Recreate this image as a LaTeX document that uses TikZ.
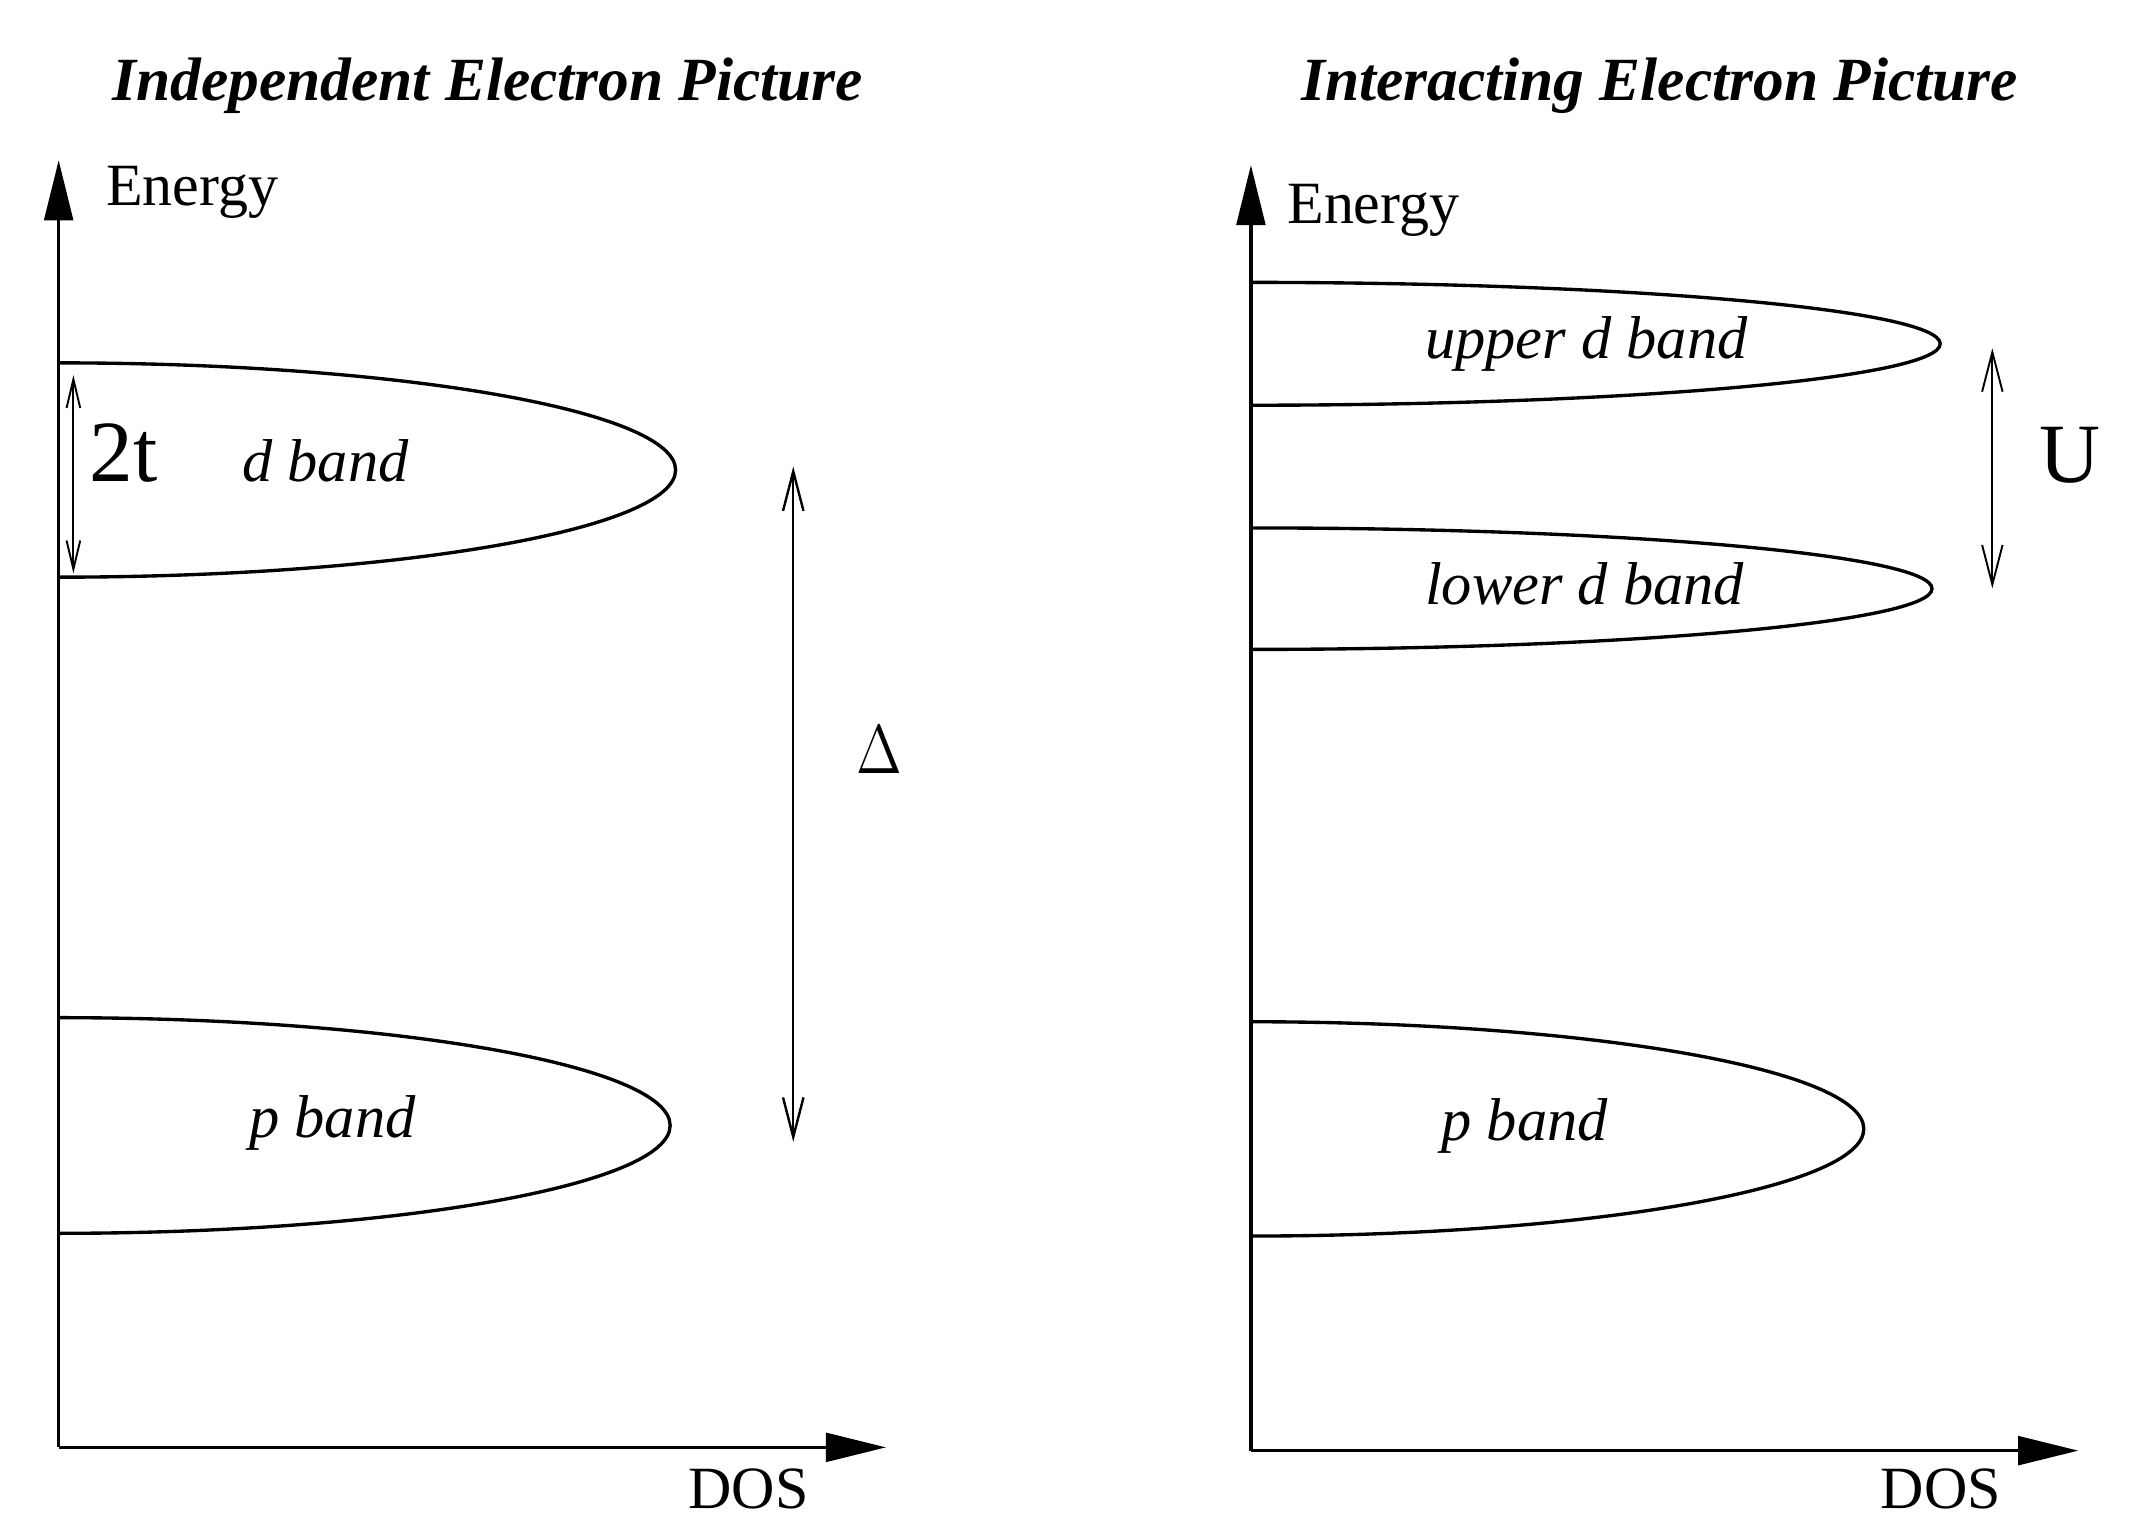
\documentclass[tikz,border=0pt]{standalone}
\usepackage{fontspec}
\setmainfont{Liberation Serif}
\usetikzlibrary{arrows.meta}
\begin{document}
\begin{tikzpicture}[x=0.01cm,y=-0.01cm,
  axis/.style={line width=0.7pt,-{Triangle[length=4.4mm,width=2.1mm]}},
  band/.style={line width=0.7pt},
  gapwide/.style={line width=0.5pt,
    {Straight Barb[length=2.9mm,width=1.5mm]}-{Straight Barb[length=2.9mm,width=1.5mm]}},
  gapnarrow/.style={line width=0.4pt,
    {Straight Barb[length=2.1mm,width=1.0mm]}-{Straight Barb[length=2.1mm,width=1.0mm]}},
  txt/.style={inner sep=0pt,font=\fontsize{12.5pt}{15pt}\selectfont},
  bandlabel/.style={inner sep=0pt,font=\fontsize{12.6pt}{15pt}\selectfont\itshape},
  title/.style={inner sep=0pt,font=\fontsize{12.8pt}{15pt}\selectfont\bfseries\itshape},
  big/.style={inner sep=0pt,font=\fontsize{#1}{20pt}\selectfont}
]
\useasboundingbox (0,0) rectangle (1568,1115);

% ---------- Independent electron picture ----------
\node[title,anchor=base] (titleL) at (357.5,74) {Independent Electron Picture};

\coordinate (oL) at (43,1061);
\coordinate (eL) at (43,117.5);
\coordinate (xL) at (649.5,1061);
\draw[axis] (oL) -- (eL);
\draw[axis] (oL) -- (xL);
\node[txt,anchor=base west] (energyL) at (77,151) {Energy};
\node[txt,anchor=base west] (dosL) at (504,1106) {DOS};

% d band and p band as half ellipses on the energy axis
\draw[band] (43,266) arc[start angle=90,end angle=-90,x radius=4.52cm,y radius=0.785cm];
\draw[band] (43,746) arc[start angle=90,end angle=-90,x radius=4.48cm,y radius=0.79cm];
\node[bandlabel,anchor=base west] (dbandL) at (177,353) {d band};
\node[bandlabel,anchor=base west] (pbandL) at (182,834) {p band};

% bandwidth 2t
\coordinate (wTop) at (53.8,275);
\coordinate (wBot) at (53.8,420.3);
\draw[gapnarrow] (wTop) -- (wBot);
\node[big=18.2pt,anchor=base west] (twot) at (65,353) {2t};

% charge transfer gap
\coordinate (cTop) at (581.5,342);
\coordinate (cBot) at (581.5,837);
\draw[gapwide] (cTop) -- (cBot);
\node[big=15.4pt,anchor=base west] (delta) at (627,567) {\scalebox{0.81}[1]{$\Delta$}};

% ---------- Interacting electron picture ----------
\node[title,anchor=base] (titleR) at (1216.5,74) {Interacting Electron Picture};

\coordinate (oR) at (917,1063.4);
\coordinate (eR) at (917,121);
\coordinate (xR) at (1523.5,1063.4);
\draw[axis] (oR) -- (eR);
\draw[axis] (oR) -- (xR);
\node[txt,anchor=base west] (energyR) at (943,164) {Energy};
\node[txt,anchor=base west] (dosR) at (1378,1106) {DOS};

\draw[band] (917,207) arc[start angle=90,end angle=-90,x radius=5.05cm,y radius=0.45cm];
\draw[band] (917,387) arc[start angle=90,end angle=-90,x radius=4.99cm,y radius=0.445cm];
\draw[band] (917,749) arc[start angle=90,end angle=-90,x radius=4.49cm,y radius=0.785cm];
\node[bandlabel,anchor=base west] (upperR) at (1044,263) {upper d band};
\node[bandlabel,anchor=base west] (lowerR) at (1044,443) {lower d band};
\node[bandlabel,anchor=base west] (pbandR) at (1056,836) {p band};

% Hubbard U
\coordinate (uTop) at (1460.5,255.3);
\coordinate (uBot) at (1460.5,431.3);
\draw[gapwide,line width=0.4pt] (uTop) -- (uBot);
\node[big=17.6pt,anchor=base west] (hubU) at (1494,354) {U};
\end{tikzpicture}
\end{document}
